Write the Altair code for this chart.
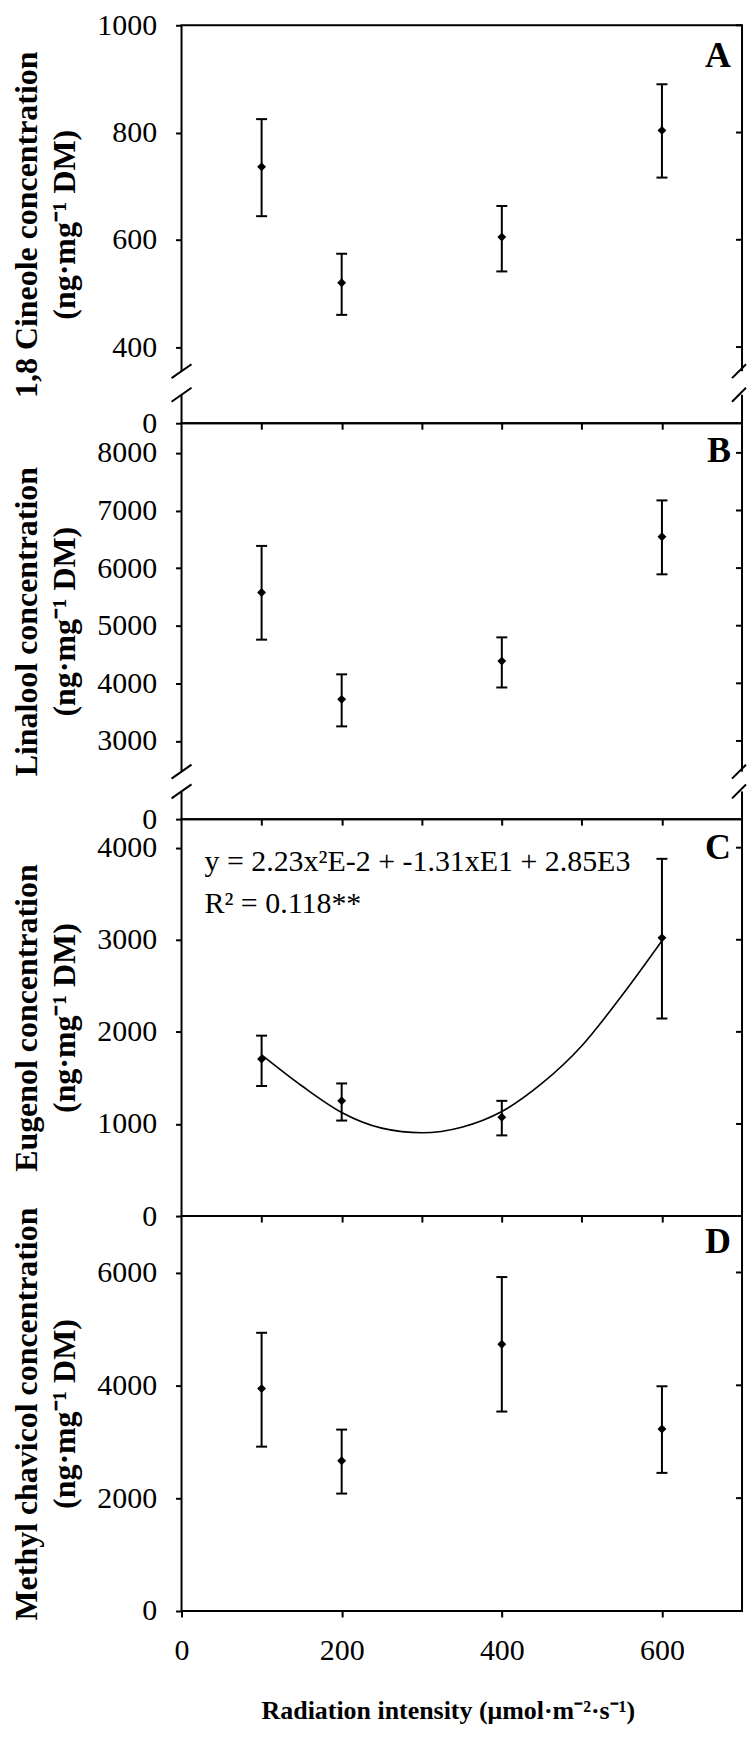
import altair as alt
import pandas as pd

FONT = "Liberation Serif"

# ---------------- data ----------------
x_levels = [100, 200, 400, 600]

cineole_mean = [736, 520, 605, 804]
cineole_low = [644, 460, 541, 716]
cineole_high = [825, 574, 663, 890]

linalool_mean = [5577, 3722, 4386, 6545]
linalool_low = [4758, 3253, 3928, 5892]
linalool_high = [6385, 4156, 4798, 7175]

eugenol_mean = [1705, 1251, 1072, 3021]
eugenol_low = [1412, 1037, 876, 2145]
eugenol_high = [1959, 1440, 1251, 3879]

chavicol_mean = [3942, 2663, 4727, 3227]
chavicol_low = [2913, 2081, 3535, 2448]
chavicol_high = [4931, 3215, 5919, 3983]

# fitted curve of panel C
fit_x = [100, 150, 200, 250, 300, 350, 400, 450, 500, 550, 600]
fit_y = [1750, 1415, 1125, 955, 905, 965, 1135, 1440, 1850, 2395, 2990]

eq_lines = ["y = 2.23x\u00b2E-2 + -1.31xE1 + 2.85E3", "R\u00b2 = 0.118**"]

W = 562


def panel(mean, low, high, domain, tick_vals, zero_at, title, letter, height,
          breaks=None, bottom=False, curve=False, letter_y=40):
    df = pd.DataFrame({"x": x_levels, "mean": mean, "low": low, "high": high})
    if zero_at is not None:
        lab = "datum.value == %s ? '0' : format(datum.value, 'd')" % zero_at
    else:
        lab = "format(datum.value, 'd')"
    yaxis = alt.Axis(values=tick_vals, labelExpr=lab, title=title,
                     titleX=-145, titleY=height / 2, titleAngle=270,
                     titleBaseline="alphabetic", titleAlign="center",
                     titleFontWeight="bold", titleFontSize=32, titleLineHeight=38,
                     labelPadding=19)
    if bottom:
        xaxis = alt.Axis(values=[0, 200, 400, 600], format="d",
                         title="Radiation intensity (\u03bcmol\u00b7m\u207b\u00b2\u00b7s\u207b\u00b9)",
                         titleFontWeight="bold", titleFontSize=26,
                         titleBaseline="alphabetic",
                         titleY=108, titleX=267, labelPadding=19, labelFlush=False)
    else:
        xaxis = alt.Axis(values=[100, 200, 300, 400, 500, 600], labels=False, title=None)
    xs = alt.Scale(domain=[0, 700], nice=False, zero=False)
    ys = alt.Scale(domain=domain, nice=False, zero=False)

    base = alt.Chart(df)
    layers = []
    if curve:
        cdf = pd.DataFrame({"x": fit_x, "mean": fit_y})
        layers.append(alt.Chart(cdf).mark_line(color="black", strokeWidth=1.6,
                                                interpolate="monotone").encode(
            x=alt.X("x:Q", scale=xs, axis=xaxis),
            y=alt.Y("mean:Q", scale=ys, axis=yaxis)))
    layers.append(base.mark_rule(color="black", strokeWidth=2).encode(
        x=alt.X("x:Q", scale=xs, axis=xaxis),
        y=alt.Y("low:Q", scale=ys, axis=yaxis), y2="high:Q"))
    layers.append(base.mark_tick(orient="horizontal", size=11, thickness=2,
                                 color="black", opacity=1).encode(
        x=alt.X("x:Q", scale=xs, axis=xaxis),
        y=alt.Y("low:Q", scale=ys, axis=yaxis)))
    layers.append(base.mark_tick(orient="horizontal", size=11, thickness=2,
                                 color="black", opacity=1).encode(
        x=alt.X("x:Q", scale=xs, axis=xaxis),
        y=alt.Y("high:Q", scale=ys, axis=yaxis)))
    layers.append(base.mark_point(shape="diamond", filled=True, size=80,
                                  color="black", opacity=1).encode(
        x=alt.X("x:Q", scale=xs, axis=xaxis),
        y=alt.Y("mean:Q", scale=ys, axis=yaxis)))
    # inward ticks on the right-hand frame at the labelled values
    rt = pd.DataFrame({"v": [v for v in tick_vals if v != zero_at and v != domain[0]]})
    layers.append(alt.Chart(rt).mark_rule(color="black", strokeWidth=2).encode(
        x=alt.value(W - 6), x2=alt.value(W),
        y=alt.Y("v:Q", scale=ys, axis=yaxis)))
    one = alt.Chart(pd.DataFrame({"t": [letter]}))
    layers.append(one.mark_text(font=FONT, fontSize=36, fontWeight="bold",
                                align="right", baseline="alphabetic",
                                color="black").encode(
        x=alt.value(W - 11), y=alt.value(letter_y), text="t:N"))
    if curve:
        layers.append(one.mark_text(font=FONT, fontSize=30, align="left",
                                    baseline="alphabetic", lineHeight=42,
                                    color="black").encode(
            x=alt.value(23), y=alt.value(52), text=alt.value(eq_lines)))
    if breaks:
        c1, c2 = breaks
        layers.append(one.mark_rule(color="white", strokeWidth=6).encode(
            x=alt.value(0), y=alt.datum(c1), y2=alt.datum(c2)))
        layers.append(one.mark_rule(color="white", strokeWidth=6).encode(
            x=alt.value(W), y=alt.datum(c1), y2=alt.datum(c2)))
        for c in (c1, c2):
            for x0, right in ((0, 10), (W, 4)):
                layers.append(one.mark_rule(color="black", strokeWidth=2,
                                            yOffset=7, y2Offset=-7).encode(
                    x=alt.value(x0 - 10), x2=alt.value(x0 + right),
                    y=alt.datum(c), y2=alt.datum(c)))
    return alt.layer(*layers).properties(width=W, height=height)


pA = panel(cineole_mean, cineole_low, cineole_high, [258, 1000],
           [258, 400, 600, 800, 1000], 258,
           ["1,8 Cineole concentration", "(ng\u00b7mg\u207b\u00b9 DM)"], "A", 399,
           breaks=(355, 311), letter_y=42)
pB = panel(linalool_mean, linalool_low, linalool_high, [1643, 8515],
           [1643, 3000, 4000, 5000, 6000, 7000, 8000], 1643,
           ["Linalool concentration", "(ng\u00b7mg\u207b\u00b9 DM)"], "B", 397,
           breaks=(2467, 2124), letter_y=39)
pC = panel(eugenol_mean, eugenol_low, eugenol_high, [0, 4310],
           [0, 1000, 2000, 3000, 4000], None,
           ["Eugenol concentration", "(ng\u00b7mg\u207b\u00b9 DM)"], "C", 398,
           curve=True, letter_y=40)
pD = panel(chavicol_mean, chavicol_low, chavicol_high, [0, 7000],
           [0, 2000, 4000, 6000], None,
           ["Methyl chavicol concentration", "(ng\u00b7mg\u207b\u00b9 DM)"], "D", 396,
           bottom=True, letter_y=37)

chart = alt.vconcat(pA, pB, pC, pD, spacing=0, bounds="flush").configure_view(
    stroke="black", strokeWidth=2
).configure_axis(
    labelFont=FONT, titleFont=FONT, labelFontSize=30, titleFontSize=28,
    labelColor="black", titleColor="black", tickColor="black", tickWidth=2,
    tickSize=6, domain=False, grid=False
).properties(padding={"left": 2, "top": -1, "right": 0, "bottom": 0},
             background="white")

chart.save("out.html", embed_options={"renderer": "svg", "actions": False})
